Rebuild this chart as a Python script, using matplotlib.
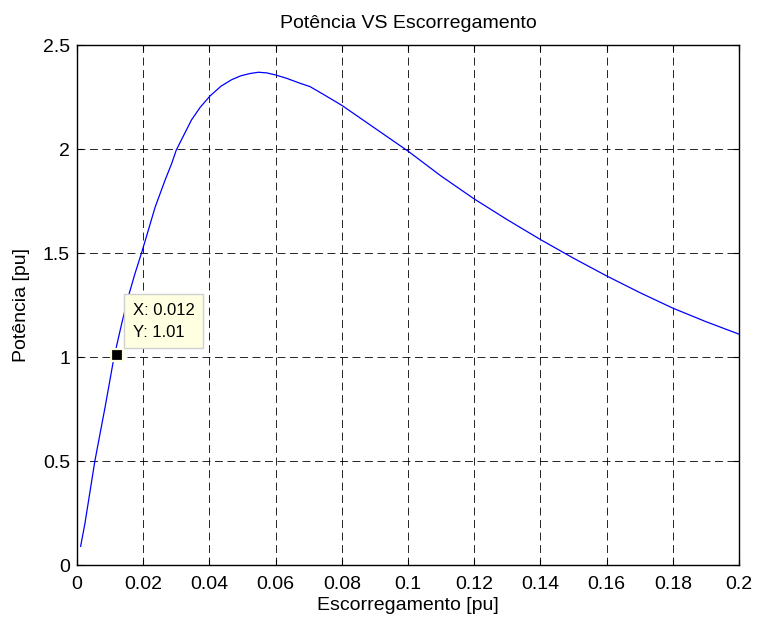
import matplotlib
matplotlib.use("Agg")
import matplotlib.pyplot as plt

# ── Data ─────────────────────────────────────────────────────────────────────
slip = [0.0011, 0.0024, 0.0054, 0.0085, 0.0112, 0.0135, 0.0155, 0.0175,
        0.0195, 0.0210, 0.0236, 0.0266, 0.0286, 0.0300, 0.0346, 0.0372,
        0.0402, 0.0435, 0.0467, 0.0495, 0.0523, 0.0548, 0.0573, 0.0600,
        0.0633, 0.0674, 0.0704, 0.0744, 0.0800, 0.0850, 0.0900, 0.0950,
        0.1000, 0.1100, 0.1200, 0.1300, 0.1400, 0.1500, 0.1600, 0.1700,
        0.1800, 0.1900, 0.2000]
power = [0.09, 0.20, 0.50, 0.76, 1.00, 1.16, 1.29, 1.40,
         1.50, 1.58, 1.72, 1.85, 1.93, 1.995, 2.14, 2.20,
         2.255, 2.302, 2.333, 2.352, 2.363, 2.369, 2.366, 2.356,
         2.34, 2.316, 2.30, 2.263, 2.21, 2.155, 2.10, 2.045,
         1.99, 1.87, 1.76, 1.66, 1.565, 1.475, 1.39, 1.31,
         1.235, 1.17, 1.11]
tip_x, tip_y = 0.012, 1.01

xticks = [0, 0.02, 0.04, 0.06, 0.08, 0.1, 0.12, 0.14, 0.16, 0.18, 0.2]
xticklabels = ["0", "0.02", "0.04", "0.06", "0.08", "0.1", "0.12", "0.14",
               "0.16", "0.18", "0.2"]
yticks = [0, 0.5, 1, 1.5, 2, 2.5]
yticklabels = ["0", "0.5", "1", "1.5", "2", "2.5"]

plt.rcParams["font.family"] = ["Liberation Sans", "DejaVu Sans"]

fig = plt.figure(figsize=(7.57, 6.19), dpi=100)
ax = fig.add_axes([0.1017, 0.0872, 0.8745, 0.8401])

ax.plot(slip, power, color="#0000FF", lw=0.9)

ax.set_xlim(0, 0.2)
ax.set_ylim(0, 2.5)
ax.set_xticks(xticks)
ax.set_xticklabels(xticklabels)
ax.set_yticks(yticks)
ax.set_yticklabels(yticklabels)
ax.tick_params(direction="in", top=True, right=True, length=4, width=0.8,
               labelsize=14)
ax.tick_params(axis="x", pad=8)
ax.tick_params(axis="y", pad=5)
for sp in ax.spines.values():
    sp.set_linewidth(1.0)
ax.grid(True, color="black", linestyle=(0, (9.5, 5.5)), linewidth=0.6)

ax.set_title("Potência VS Escorregamento", fontsize=14, pad=12)
ax.set_xlabel("Escorregamento [pu]", fontsize=14, labelpad=3)
ax.set_ylabel("Potência [pu]", fontsize=14, labelpad=9)

# data tip
ax.plot([tip_x], [tip_y], marker="s", color="black", markersize=9,
        markeredgecolor="#FFFFE1", markeredgewidth=1.6, zorder=5)
ax.annotate(f"X: {tip_x}\nY: {tip_y}", xy=(tip_x, tip_y),
            xytext=(16, 15), textcoords="offset pixels",
            ha="left", va="bottom", fontsize=12, linespacing=1.6,
            bbox=dict(boxstyle="square,pad=0.5", fc="#FFFFE1", ec="#D0D0D0",
                      lw=1.0), zorder=6)

fig.savefig("out.png", dpi=100)
